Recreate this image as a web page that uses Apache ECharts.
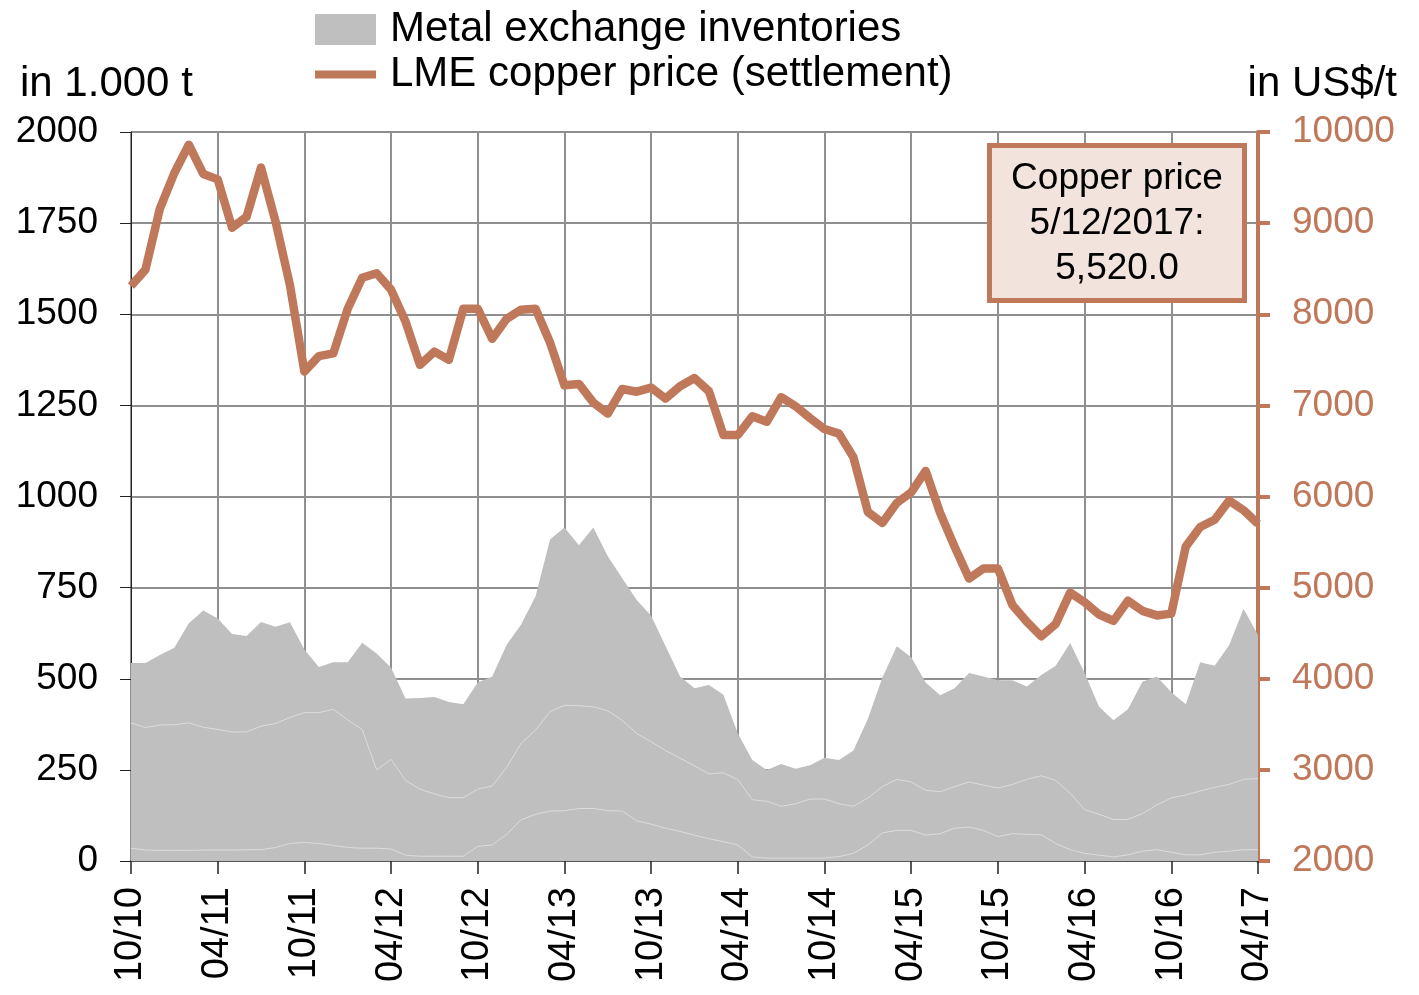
<!DOCTYPE html>
<html>
<head>
<meta charset="utf-8">
<script src="https://cdn.jsdelivr.net/npm/echarts@6/dist/echarts.min.js"></script>
<style>
  html, body { margin: 0; padding: 0; background: #fff; }
  #chart { width: 1419px; height: 995px; }
</style>
</head>
<body>
<div id="chart"></div>
<script>
// monthly, Oct 2010 .. Apr 2017
const months = [
  '10/10', '11/10', '12/10',
  '01/11', '02/11', '03/11', '04/11', '05/11', '06/11', '07/11', '08/11', '09/11', '10/11', '11/11', '12/11',
  '01/12', '02/12', '03/12', '04/12', '05/12', '06/12', '07/12', '08/12', '09/12', '10/12', '11/12', '12/12',
  '01/13', '02/13', '03/13', '04/13', '05/13', '06/13', '07/13', '08/13', '09/13', '10/13', '11/13', '12/13',
  '01/14', '02/14', '03/14', '04/14', '05/14', '06/14', '07/14', '08/14', '09/14', '10/14', '11/14', '12/14',
  '01/15', '02/15', '03/15', '04/15', '05/15', '06/15', '07/15', '08/15', '09/15', '10/15', '11/15', '12/15',
  '01/16', '02/16', '03/16', '04/16', '05/16', '06/16', '07/16', '08/16', '09/16', '10/16', '11/16', '12/16',
  '01/17', '02/17', '03/17', '04/17'
];

// LME copper price, US$/t
const copperPrice = [
  8310, 8490, 9160, 9550, 9860, 9540, 9480, 8950, 9070, 9610, 9020, 8320, 7370, 7540, 7570,
  8060, 8400, 8450, 8270, 7920, 7445, 7590, 7500, 8060, 8060, 7730, 7950,
  8050, 8060, 7690, 7220, 7235, 7030, 6910, 7180, 7150, 7195, 7075, 7210,
  7300, 7155, 6675, 6675, 6880, 6820, 7090, 6990, 6860, 6740, 6690, 6430,
  5830, 5710, 5930, 6045, 6280, 5820, 5450, 5100, 5210, 5210, 4810, 4625,
  4465, 4600, 4945, 4840, 4705, 4635, 4855, 4745, 4695, 4715, 5450, 5665,
  5745, 5955, 5850, 5700
];

// exchange inventories, 1.000 t (cumulative levels of the three layers)
const stockTotal = [
  543, 543, 565, 585, 652, 687, 665, 623, 617, 656, 643, 655, 580, 532, 545,
  545, 599, 569, 530, 446, 447, 450, 436, 430, 490, 506, 593,
  649, 726, 882, 915, 866, 915, 836, 776, 716, 673, 589, 506,
  474, 483, 456, 350, 277, 250, 266, 253, 263, 283, 277, 303,
  390, 503, 589, 559, 490, 455, 474, 516, 506, 496, 496, 479,
  510, 536, 598, 516, 423, 386, 416, 492, 506, 463, 430, 545,
  536, 592, 692, 620
];
const stockMid = [
  379, 366, 373, 374, 379, 367, 361, 354, 354, 370, 377, 394, 407, 407, 416,
  387, 361, 250, 279, 221, 197, 184, 174, 174, 197, 206, 257,
  323, 359, 410, 427, 426, 423, 412, 386, 350, 327, 303, 282,
  261, 239, 242, 223, 168, 164, 150, 157, 170, 170, 157, 150,
  173, 204, 224, 217, 194, 190, 204, 217, 208, 200, 210, 224,
  234, 221, 186, 141, 128, 114, 114, 130, 154, 173, 181, 192,
  202, 210, 224, 226
];
const stockLow = [
  35, 30, 29, 29, 29, 30, 30, 30, 31, 31, 37, 48, 51, 48, 43,
  37, 35, 35, 33, 16, 13, 13, 13, 13, 40, 44, 73,
  113, 128, 137, 138, 144, 144, 138, 137, 110, 101, 90, 81,
  71, 61, 53, 44, 11, 8, 8, 8, 8, 8, 12, 21,
  44, 77, 84, 84, 71, 75, 90, 93, 84, 67, 75, 73,
  72, 48, 31, 21, 16, 11, 17, 27, 31, 24, 17, 17,
  24, 27, 31, 31
];

const leftTicks = { min: 0, max: 2000, interval: 250 };
const rightTicks = { min: 2000, max: 10000, interval: 1000 };

const FONT = "'Liberation Sans', Arial, sans-serif";
const COPPER = '#c0785a';
const GREY = '#bfbfbf';
const GRID = '#8f8f8f';
const everySixth = (i) => i % 6 === 0;
const plain = (v) => String(v);

const chart = echarts.init(document.getElementById('chart'));

const option = {
  animation: false,
  textStyle: { fontFamily: FONT },
  grid: { left: 131, right: 161, top: 132, bottom: 134 },
  legend: {
    orient: 'vertical',
    left: 311,
    top: 7,
    padding: 0,
    itemGap: 0,
    itemWidth: 61,
    itemHeight: 31,
    selectedMode: false,
    textStyle: { fontSize: 42, color: '#000', fontFamily: FONT, lineHeight: 45, padding: [0, 0, 0, 9] },
    data: [
      { name: 'Metal exchange inventories', icon: 'rect', itemStyle: { color: GREY } },
      {
        name: 'LME copper price (settlement)',
        lineStyle: { width: 8, color: COPPER },
        itemStyle: { opacity: 0 }
      }
    ]
  },
  xAxis: {
    type: 'category',
    data: months,
    boundaryGap: false,
    axisLine: { lineStyle: { color: '#555', width: 2 } },
    axisTick: { interval: everySixth, length: 13, lineStyle: { color: '#222', width: 1.5 } },
    axisLabel: {
      interval: everySixth,
      rotate: 90,
      margin: 26,
      fontSize: 38,
      color: '#000',
      fontFamily: FONT
    },
    splitLine: { show: true, interval: everySixth, lineStyle: { color: GRID, width: 2 } }
  },
  yAxis: [
    {
      type: 'value',
      min: leftTicks.min,
      max: leftTicks.max,
      interval: leftTicks.interval,
      axisLine: { show: true, lineStyle: { color: '#222', width: 1 } },
      axisTick: { show: true, length: 11, lineStyle: { color: '#222' } },
      axisLabel: { margin: 33, fontSize: 37, color: '#000', fontFamily: FONT, formatter: plain },
      splitLine: { lineStyle: { color: GRID, width: 2 } }
    },
    {
      type: 'value',
      position: 'right',
      min: rightTicks.min,
      max: rightTicks.max,
      interval: rightTicks.interval,
      axisLine: { show: true, lineStyle: { color: COPPER, width: 4 } },
      axisTick: { show: true, length: 12, lineStyle: { color: COPPER, width: 4 } },
      axisLabel: { margin: 34, fontSize: 37, color: COPPER, fontFamily: FONT, formatter: plain },
      splitLine: { show: false }
    }
  ],
  series: [
    {
      name: 'Metal exchange inventories',
      type: 'line',
      data: stockTotal,
      symbol: 'none',
      lineStyle: { width: 0 },
      itemStyle: { color: GREY },
      areaStyle: { color: GREY, opacity: 1 },
      z: 1
    },
    {
      name: 'stock-mid',
      type: 'line',
      data: stockMid,
      symbol: 'none',
      lineStyle: { width: 1, color: '#dcdcdc' },
      itemStyle: { color: GREY },
      areaStyle: { color: GREY, opacity: 1 },
      z: 1
    },
    {
      name: 'stock-low',
      type: 'line',
      data: stockLow,
      symbol: 'none',
      lineStyle: { width: 1, color: '#dcdcdc' },
      itemStyle: { color: GREY },
      areaStyle: { color: GREY, opacity: 1 },
      z: 1
    },
    {
      name: 'LME copper price (settlement)',
      type: 'line',
      yAxisIndex: 1,
      data: copperPrice,
      symbol: 'none',
      lineStyle: { width: 8.5, color: COPPER, join: 'round' },
      itemStyle: { color: COPPER },
      z: 3
    }
  ],
  graphic: [
    {
      type: 'text',
      left: 20,
      top: 63,
      style: { text: 'in 1.000 t', fontSize: 42, fontFamily: FONT, fill: '#000' }
    },
    {
      type: 'text',
      right: 22,
      top: 63,
      style: { text: 'in US$/t', fontSize: 42, fontFamily: FONT, fill: '#000' }
    },
    {
      type: 'rect',
      z: 100,
      shape: { x: 989.5, y: 145.5, width: 255, height: 155 },
      style: { fill: '#f2e3dd', stroke: COPPER, lineWidth: 5 }
    },
    {
      type: 'text',
      z: 101,
      x: 1117,
      y: 224,
      style: {
        text: 'Copper price\n5/12/2017:\n5,520.0',
        fontSize: 37,
        lineHeight: 45,
        fontFamily: FONT,
        fill: '#000',
        align: 'center',
        verticalAlign: 'middle'
      }
    }
  ]
};

chart.setOption(option);
window.addEventListener('resize', () => {
  chart.resize();
});
</script>
</body>
</html>
